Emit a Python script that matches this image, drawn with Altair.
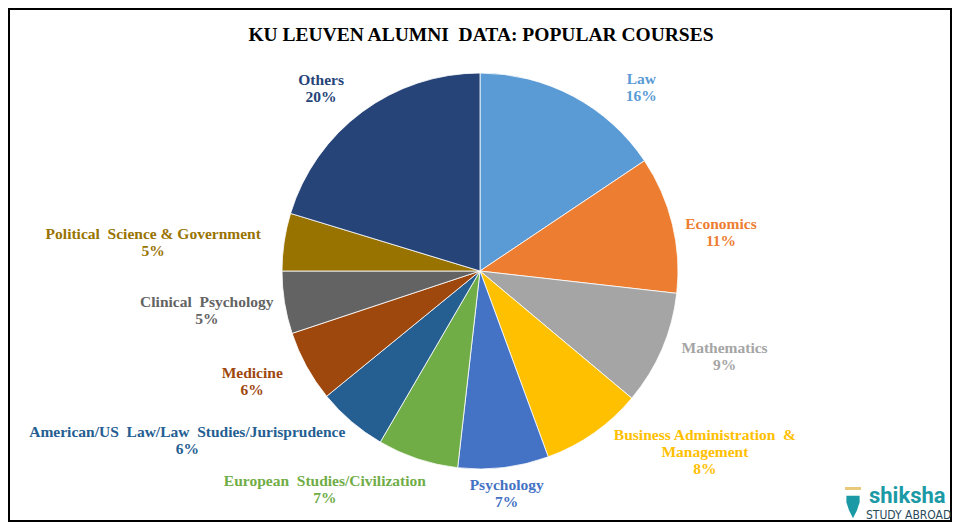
import math
import altair as alt
import pandas as pd

NB = "\u00a0"

# ---------------- data ----------------
courses = [
    "Law", "Economics", "Mathematics", "Business Administration & Management",
    "Psychology", "European Studies/Civilization",
    "American/US Law/Law Studies/Jurisprudence", "Medicine",
    "Clinical Psychology", "Political Science & Government", "Others",
]
label_names = [
    "Law", "Economics", "Mathematics", "Business Administration  &\nManagement",
    "Psychology", "European  Studies/Civilization",
    "American/US  Law/Law  Studies/Jurisprudence", "Medicine",
    "Clinical  Psychology", "Political  Science & Government", "Others",
]
shares = [15.6, 11.2, 9.3, 8.3, 7.4, 6.6, 5.7, 5.8, 5.1, 4.7, 20.3]
title_text = "KU LEUVEN ALUMNI  DATA: POPULAR COURSES"

# ---------------- style / layout ----------------
slice_colors = ["#5B9BD5", "#ED7D31", "#A5A5A5", "#FFC000", "#4472C4", "#70AD47",
                "#255E91", "#9E480E", "#636363", "#997300", "#264478"]
label_colors = ["#6E93BC", "#DC8450", "#A2A2A2", "#F0C440", "#4A6FAE", "#7A9E55",
                "#2F5A84", "#8E4A20", "#5E5E5E", "#94761E", "#2C4368"]
label_angle_offset = [13.3, 4.7, -4.0, -16.0, 0.0, 17.0, 19.5, 3.0, 1.0, -3.5, -4.5]
label_radius = [244, 244, 259, 289, 224, 268, 338, 253, 276, 328, 242]

W, H = 944, 514
CX, CY, R = 472, 263, 198
LINE_H = 17
SERIF = "Liberation Serif, Times New Roman, serif"


def keep_spaces(s):
    # SVG collapses repeated spaces; keep the doubled gaps of the original
    return s.replace("  ", " " + NB)


rows = []
cum = 0.0
total = sum(shares)
for i, (c, ln, v) in enumerate(zip(courses, label_names, shares)):
    mid = (cum + v / 2) / total * 360.0
    cum += v
    a = math.radians(mid + label_angle_offset[i])
    text = keep_spaces(f"{ln}\n{round(v)}%")
    n_lines = text.count("\n") + 1
    rows.append({
        "idx": i, "course": c, "share": v,
        "label": text,
        "lx": CX + label_radius[i] * math.sin(a),
        "ly": CY - label_radius[i] * math.cos(a) - (n_lines - 1) * LINE_H / 2,
    })
df = pd.DataFrame(rows)

pie = alt.Chart(df).mark_arc(outerRadius=R, stroke="white", strokeWidth=0.8).encode(
    theta=alt.Theta("share:Q", stack=True),
    color=alt.Color("course:N", scale=alt.Scale(domain=courses, range=slice_colors), legend=None),
    order=alt.Order("idx:Q"),
    x=alt.value(CX),
    y=alt.value(CY),
)

labels = alt.Chart(df).mark_text(
    font=SERIF, fontWeight="bold", fontSize=15.5, lineBreak="\n", lineHeight=LINE_H,
    align="center", baseline="middle",
).encode(
    x=alt.X("lx:Q", scale=None, axis=None),
    y=alt.Y("ly:Q", scale=None, axis=None),
    text="label:N",
    color=alt.Color("course:N", scale=alt.Scale(domain=courses, range=label_colors), legend=None),
)

title = alt.Chart(pd.DataFrame({"t": [keep_spaces(title_text)]})).mark_text(
    font=SERIF, fontWeight="bold", fontSize=19.5, color="#000000", align="center", baseline="middle",
).encode(x=alt.value(473), y=alt.value(27), text="t:N")

border = alt.Chart(pd.DataFrame({"k": [0]})).mark_rect(
    filled=False, stroke="#000000", strokeWidth=2
).encode(x=alt.value(1), x2=alt.value(W - 1), y=alt.value(1), y2=alt.value(H - 1))

logo1 = alt.Chart(pd.DataFrame({"t": ["shiksha"]})).mark_text(
    font="Roboto, Open Sans, sans-serif", fontWeight="bold", fontSize=22, color="#1B9AA6",
    align="left", baseline="alphabetic",
).encode(x=alt.value(861), y=alt.value(495), text="t:N")

logo2 = alt.Chart(pd.DataFrame({"t": ["STUDY ABROAD"]})).mark_text(
    font="DejaVu Sans Condensed, Liberation Sans Narrow, Roboto, sans-serif",
    fontSize=12, color="#2A4A5C", align="left", baseline="alphabetic",
).encode(x=alt.value(858), y=alt.value(511), text="t:N")

icon = alt.Chart(pd.DataFrame({"k": [0]})).mark_point(
    shape="M-0.5,-0.7 L0.5,-0.7 L0.5,-0.2 L0.3,0.4 L0,1 L-0.3,0.4 L-0.5,-0.2 Z",
    filled=True, color="#1B9AA6", size=700, opacity=1
).encode(x=alt.value(845), y=alt.value(497))

icon_bar = alt.Chart(pd.DataFrame({"k": [0]})).mark_rect(color="#E8C97A").encode(
    x=alt.value(837), x2=alt.value(853), y=alt.value(479), y2=alt.value(482)
)

chart = alt.layer(pie, labels, title, border, logo1, logo2, icon, icon_bar).properties(
    width=W, height=H, autosize="none", padding=0, background="white"
).configure_view(stroke=None)

chart.save("out.html", embed_options={"renderer": "svg", "actions": False})
